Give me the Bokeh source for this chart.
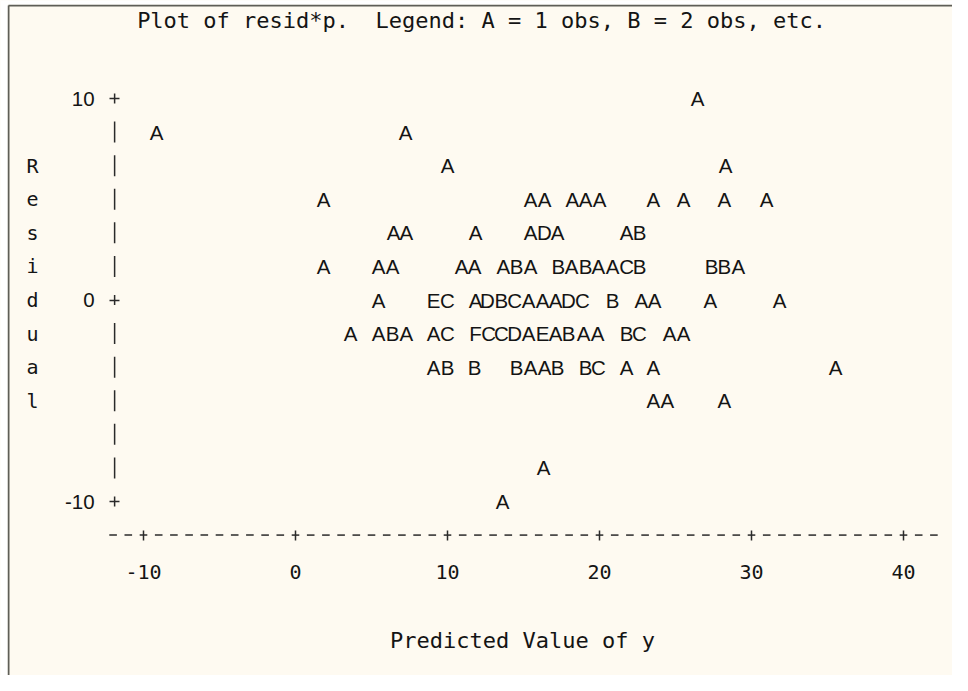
import numpy as np
from bokeh.plotting import figure
from bokeh.models import Range1d, LinearAxis, FixedTicker, ColumnDataSource, BoxAnnotation
from bokeh.core.properties import value
from bokeh.embed import file_html
from bokeh.resources import INLINE

# ---------------- data ----------------
title_text = "Plot of resid*p.\u00a0 Legend: A = 1 obs, B = 2 obs, etc."
x_label = "Predicted Value of y"
y_label = "Residual"
x_ticks = [-10, 0, 10, 20, 30, 40]
y_ticks = [-10, 0, 10]

# residual value of each printer row (one row = 10/6 units)
row_resid = [10.0, 8.33, 6.67, 5.0, 3.33, 1.67, 0.0, -1.67, -3.33, -5.0, -6.67, -8.33, -10.0]
# predicted values of the plot symbols on each row
row_pred = [
    [26.45],
    [-9.14, 7.24],
    [10.0, 28.29],
    [1.84, 15.46, 16.38, 18.22, 19.08, 20.0, 23.55, 25.53, 28.22, 30.99],
    [6.45, 7.30, 11.84, 15.46, 16.38, 17.24, 21.78, 22.63],
    [1.84, 5.46, 6.38, 10.92, 11.78, 13.68, 14.54, 15.46, 17.30, 18.16, 19.08, 19.93,
     20.86, 21.78, 22.63, 27.37, 28.22, 29.14],
    [5.46, 9.08, 10.0, 11.84, 12.63, 13.55, 14.41, 15.33, 16.25, 17.11, 17.96, 18.88,
     20.86, 22.76, 23.62, 27.30, 31.84],
    [3.62, 5.46, 6.38, 7.30, 9.08, 10.0, 11.84, 12.70, 13.55, 14.41, 15.33, 16.25,
     17.11, 17.96, 18.95, 19.87, 21.78, 22.63, 24.61, 25.53],
    [9.08, 10.0, 11.78, 14.54, 15.46, 16.38, 17.24, 19.08, 19.93, 21.78, 23.55, 35.53],
    [23.55, 24.47, 28.22],
    [],
    [16.32],
    [13.62],
]
# plot symbols (A = 1 obs, B = 2 obs, ...) on each row
row_marks = [
    "A",
    "AA",
    "AA",
    "AAAAAAAAAA",
    "AAAADAAB",
    "AAAAAABABABAACBBBA",
    "AECADBCAAADCBAAAA",
    "AABAACFCCDAEABAABCAA",
    "ABBBAABBCAAA",
    "AAA",
    "",
    "A",
    "A",
]

# ---------------- layout / style ----------------
BG = "#fefaf1"
INK = "#141414"
AXC = "#2a2a2a"
BORDER = "#5e5e57"
W, H = 952, 675
PXX = 15.2      # pixels per x unit (one printer column)
PXY = 20.15     # pixels per y unit
X0 = 295.0      # canvas px of x = 0
Y0 = 299.5      # canvas px (from top) of y = 0


def dx(px):  # canvas px -> data x
    return (px - X0) / PXX


def dy(py):  # canvas px -> data y
    return (Y0 - py) / PXY


xs, ys, ts = [], [], []
for r, preds, marks in zip(row_resid, row_pred, row_marks):
    for xv, ch in zip(preds, marks):
        xs.append(xv)
        ys.append(r)
        ts.append(ch)
src = ColumnDataSource(dict(x=xs, y=ys, t=ts))

x_lo, x_hi = dx(0), dx(W)
y_lo, y_hi = dy(H), dy(0)
p = figure(width=W, height=H,
           x_range=Range1d(x_lo, x_hi), y_range=Range1d(y_lo, y_hi),
           output_backend="svg", toolbar_location=None,
           x_axis_location=None, y_axis_location=None,
           min_border=0, background_fill_color=BG, border_fill_color=BG,
           outline_line_color=None)
p.xgrid.grid_line_color = None
p.ygrid.grid_line_color = None

# white page margin and frame border (left and top)
p.add_layout(BoxAnnotation(right=dx(7), fill_color="white", fill_alpha=1, line_color=None))
p.add_layout(BoxAnnotation(bottom=dy(4), fill_color="white", fill_alpha=1, line_color=None))
p.segment(x0=[dx(8), dx(8)], y0=[dy(5), dy(5)], x1=[dx(8), x_hi], y1=[y_lo, dy(5)],
          line_color=BORDER, line_width=2)

grid_rows = np.linspace(10, -10, 13)
y_axis_x = -11.9
x_axis_y = -10 - 10 / 6

# y axis ("+" and "|" characters of the printer plot)
yax = LinearAxis(fixed_location=y_axis_x, ticker=FixedTicker(ticks=y_ticks),
                 major_label_overrides={t: str(t) for t in y_ticks},
                 axis_line_color=None, minor_tick_line_color=None,
                 major_tick_in=5, major_tick_out=5,
                 major_tick_line_color=AXC, major_tick_line_width=1.5,
                 major_label_standoff=15,
                 major_label_text_font="Liberation Sans",
                 major_label_text_font_size="20.5px",
                 major_label_text_color=INK)
p.add_layout(yax, "left")
is_tick = np.isin(np.round(grid_rows, 6), y_ticks)
half = np.where(is_tick, 0.25, 0.52)
p.segment(x0=y_axis_x, x1=y_axis_x, y0=grid_rows - half, y1=grid_rows + half,
          line_color=AXC, line_width=1.5)

# x axis ("-" and "+" characters)
xax = LinearAxis(fixed_location=x_axis_y, ticker=FixedTicker(ticks=x_ticks),
                 major_label_overrides={t: str(t) for t in x_ticks},
                 axis_line_color=None, minor_tick_line_color=None,
                 major_tick_in=5, major_tick_out=5,
                 major_tick_line_color=AXC, major_tick_line_width=1.5,
                 major_label_standoff=25,
                 major_label_text_font="DejaVu Sans Mono",
                 major_label_text_font_size="20px",
                 major_label_text_color=INK)
p.add_layout(xax, "below")
cols = np.arange(-12, 43)
p.segment(x0=cols - 0.25, x1=cols + 0.25, y0=x_axis_y, y1=x_axis_y,
          line_color=AXC, line_width=1.5)

# plot symbols
p.text(x="x", y="y", text="t", source=src,
       text_font=value("Liberation Sans"), text_font_size=value("20.5px"),
       text_align="center", text_baseline="middle", text_color=INK)

# title and axis labels
p.text(x=[dx(481)], y=[dy(20)], text=[title_text],
       text_font=value("DejaVu Sans Mono"), text_font_size=value("22px"),
       text_align="center", text_baseline="middle", text_color=INK)
p.text(x=[dx(522)], y=[dy(640)], text=[x_label],
       text_font=value("DejaVu Sans Mono"), text_font_size=value("22px"),
       text_align="center", text_baseline="middle", text_color=INK)
p.text(x=[dx(32)] * len(y_label), y=list(grid_rows[2:2 + len(y_label)]),
       text=list(y_label),
       text_font=value("DejaVu Sans Mono"), text_font_size=value("20px"),
       text_align="center", text_baseline="middle", text_color=INK)

open("out.html", "w").write(file_html(p, INLINE))
